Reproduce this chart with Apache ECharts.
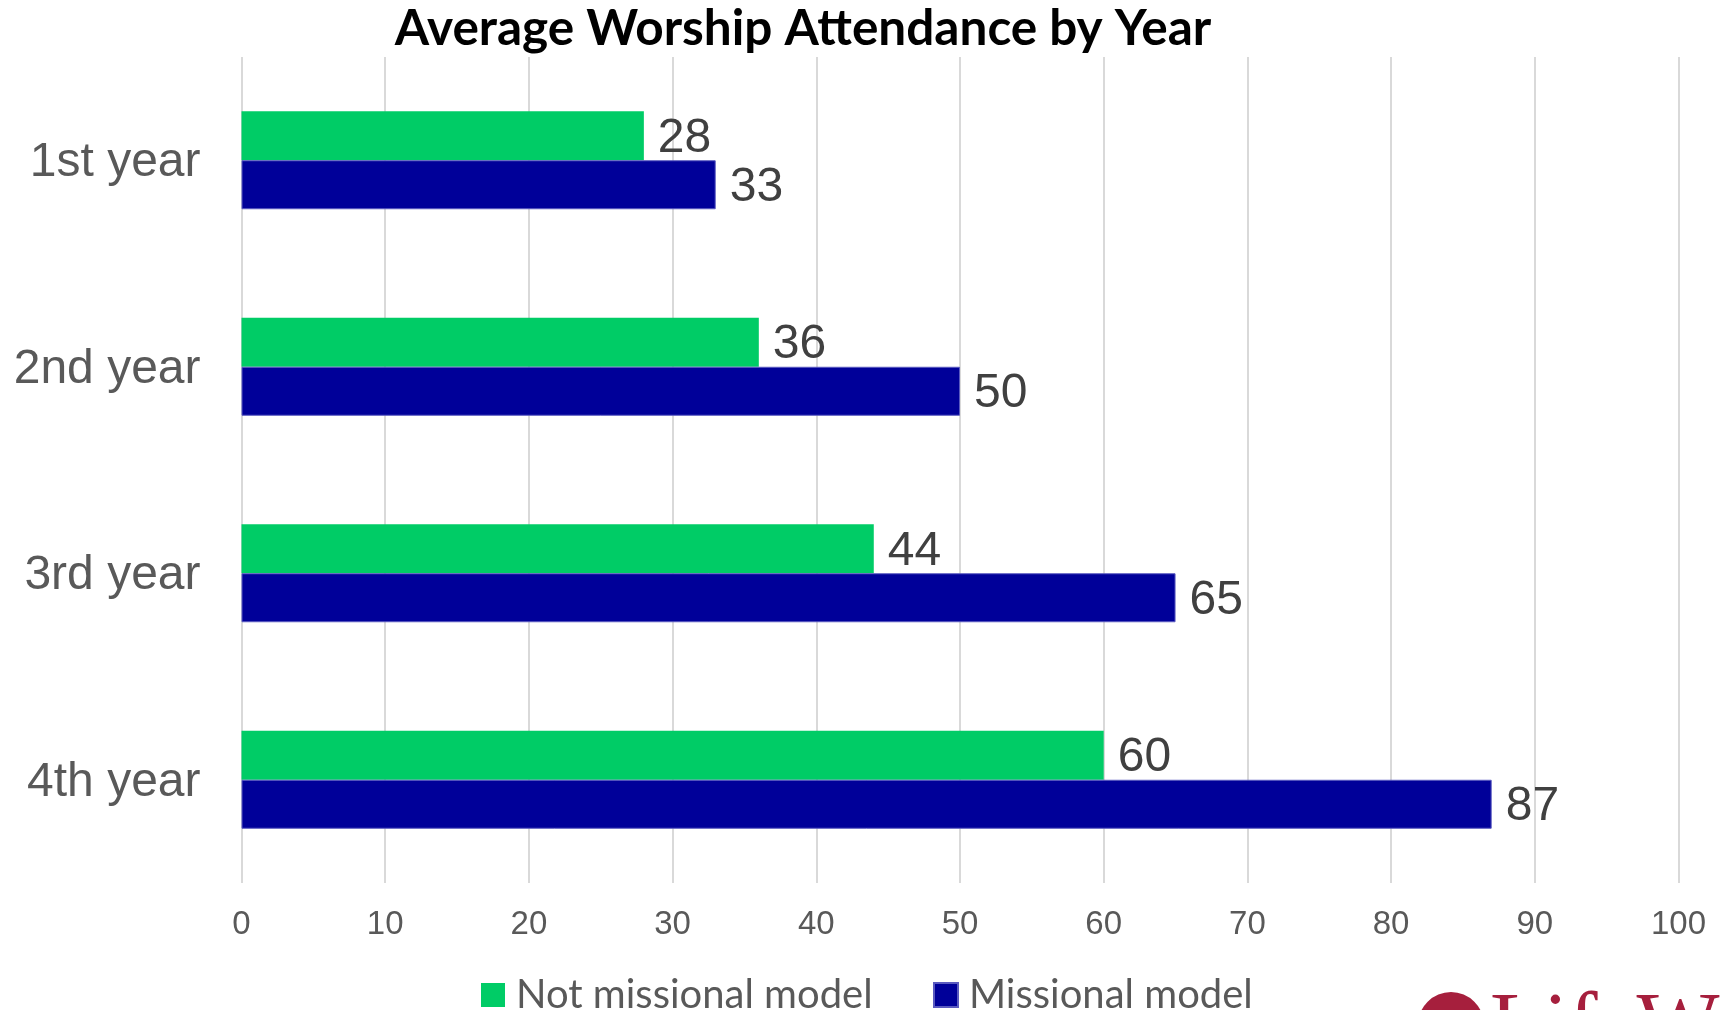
<!DOCTYPE html>
<html>
<head>
<meta charset="utf-8">
<script src="https://cdn.jsdelivr.net/npm/echarts@6/dist/echarts.min.js"></script>
<style>
html,body{margin:0;padding:0;background:#fff;}
#chart{width:1720px;height:1010px;}
</style>
</head>
<body>
<div id="chart"></div>
<script>
const titleText = 'Average Worship Attendance by Year';
const categories = ['1st year', '2nd year', '3rd year', '4th year'];
const seriesNames = ['Not missional model', 'Missional model'];
const notMissional = [28, 36, 44, 60];
const missional = [33, 50, 65, 87];
const xTicks = [0, 10, 20, 30, 40, 50, 60, 70, 80, 90, 100];

const chart = echarts.init(document.getElementById('chart'), null, {renderer: 'canvas'});
const labelStyle = {
  show: true, position: 'right', distance: 14,
  color: '#404040', fontSize: 48, fontFamily: '"Liberation Sans", Arial, sans-serif',
  offset: [0, 3]
};
const legendText = {fontFamily: 'Lato', fontSize: 40, color: '#595959', padding: [0, 0, 0, 6]};
chart.setOption({
  backgroundColor: '#ffffff',
  animation: false,
  title: {
    text: titleText,
    left: 803, top: 4, textAlign: 'center',
    padding: 0,
    textStyle: {fontFamily: 'Lato', fontWeight: 'bold', fontSize: 49.5, color: '#000000'}
  },
  legend: [
    {
      data: [seriesNames[0]], left: 481, top: 975, padding: 0,
      itemWidth: 24, itemHeight: 24, icon: 'rect', textStyle: legendText
    },
    {
      data: [seriesNames[1]], left: 933, top: 975, padding: 0,
      itemWidth: 24, itemHeight: 24, icon: 'rect', textStyle: legendText
    }
  ],
  grid: {left: 241.5, right: 41.5, top: 57, bottom: 127, containLabel: false},
  xAxis: {
    type: 'value', min: xTicks[0], max: xTicks[xTicks.length - 1], interval: 10,
    axisLine: {show: false}, axisTick: {show: false},
    splitLine: {show: true, lineStyle: {color: '#d9d9d9', width: 2}},
    axisLabel: {color: '#595959', fontSize: 33, margin: 25, fontFamily: '"Liberation Sans", Arial, sans-serif'}
  },
  yAxis: {
    type: 'category', data: categories, inverse: true,
    axisLine: {show: false}, axisTick: {show: false}, splitLine: {show: false},
    axisLabel: {color: '#595959', fontSize: 48, margin: 41, verticalAlign: 'top', lineHeight: 6,
      fontFamily: '"Liberation Sans", Arial, sans-serif'}
  },
  series: [
    {
      name: seriesNames[0], type: 'bar', data: notMissional,
      barWidth: 49, barGap: '0%',
      itemStyle: {color: '#00cc66'},
      label: labelStyle
    },
    {
      name: seriesNames[1], type: 'bar', data: missional,
      barWidth: 49, barGap: '0%',
      itemStyle: {color: '#000099', borderColor: '#5a5ac0', borderWidth: 1},
      label: labelStyle
    }
  ],
  graphic: [
    {
      type: 'circle', shape: {cx: 1451, cy: 1025, r: 33},
      style: {fill: '#a61f3d'}, silent: true
    },
    {
      type: 'text', x: 1490, y: 986,
      style: {text: 'LifeWay', fill: '#a61f3d', fontFamily: '"Liberation Serif", serif', fontSize: 88, textVerticalAlign: 'top'},
      silent: true
    }
  ]
});
</script>
</body>
</html>
